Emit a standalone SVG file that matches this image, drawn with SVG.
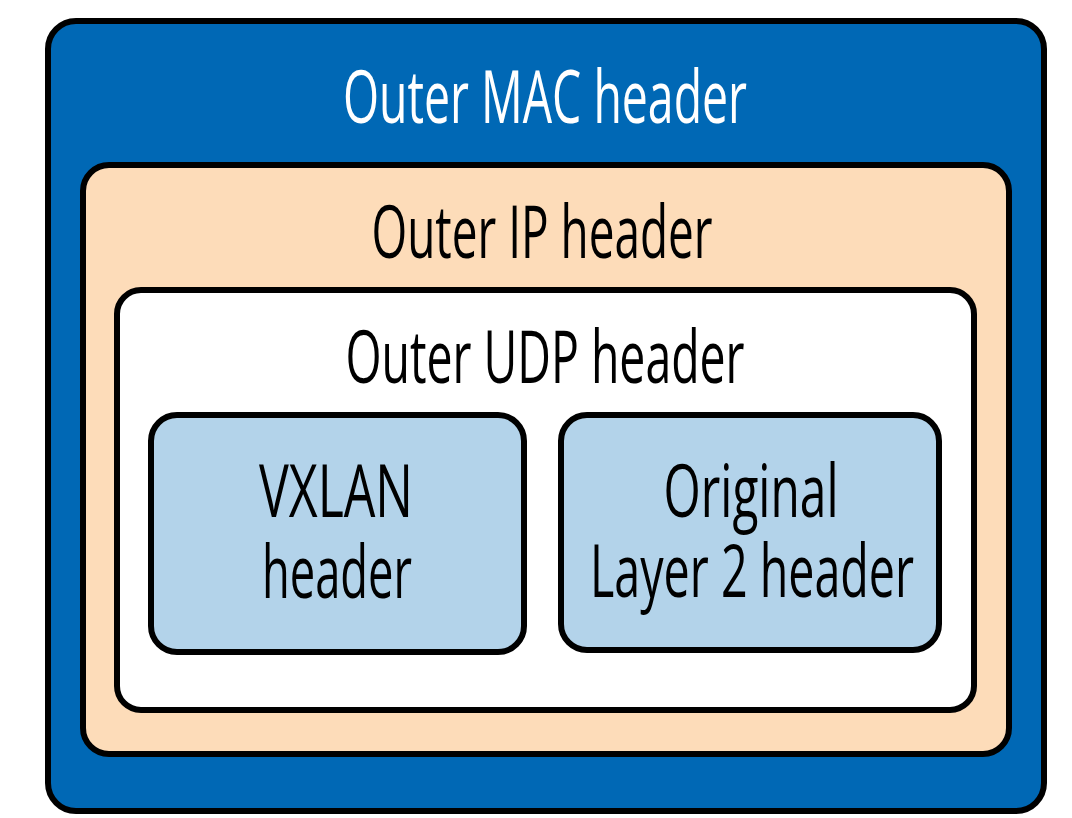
<svg xmlns="http://www.w3.org/2000/svg" width="1072" height="818" viewBox="0 0 1072 818">
  <style>
    .box { stroke: #000; stroke-width: 6; }
    .lbl { font-family: "Open Sans", "Liberation Sans", sans-serif; font-size: 74px; text-anchor: middle; }
  </style>
  <rect width="1072" height="818" fill="#fff"/>
  <g id="outer-mac">
    <rect class="box" x="48" y="21" width="996" height="790" rx="28" fill="#0068b5"/>
    <text class="lbl" x="545" y="123" fill="#fff" textLength="404" lengthAdjust="spacingAndGlyphs">Outer MAC header</text>
  </g>
  <g id="outer-ip">
    <rect class="box" x="83" y="165" width="926" height="589" rx="26" fill="#fddcb9"/>
    <text class="lbl" x="542" y="258" fill="#000" textLength="341" lengthAdjust="spacingAndGlyphs">Outer IP header</text>
  </g>
  <g id="outer-udp">
    <rect class="box" x="117" y="290" width="857" height="420" rx="24" fill="#fff"/>
    <text class="lbl" x="545" y="383" fill="#000" textLength="399" lengthAdjust="spacingAndGlyphs">Outer UDP header</text>
  </g>
  <g id="vxlan">
    <rect class="box" x="151" y="415" width="373" height="237" rx="26" fill="#b3d3ea"/>
    <text class="lbl" x="336" y="517" fill="#000" textLength="154" lengthAdjust="spacingAndGlyphs">VXLAN</text>
    <text class="lbl" x="337" y="598" fill="#000" textLength="150" lengthAdjust="spacingAndGlyphs">header</text>
  </g>
  <g id="original-l2">
    <rect class="box" x="561" y="415" width="378" height="235" rx="26" fill="#b3d3ea"/>
    <text class="lbl" x="751" y="517" fill="#000" textLength="175" lengthAdjust="spacingAndGlyphs">Original</text>
    <text class="lbl" x="752" y="597" fill="#000" textLength="324" lengthAdjust="spacingAndGlyphs">Layer 2 header</text>
  </g>
  <g id="connectors"/>
</svg>
